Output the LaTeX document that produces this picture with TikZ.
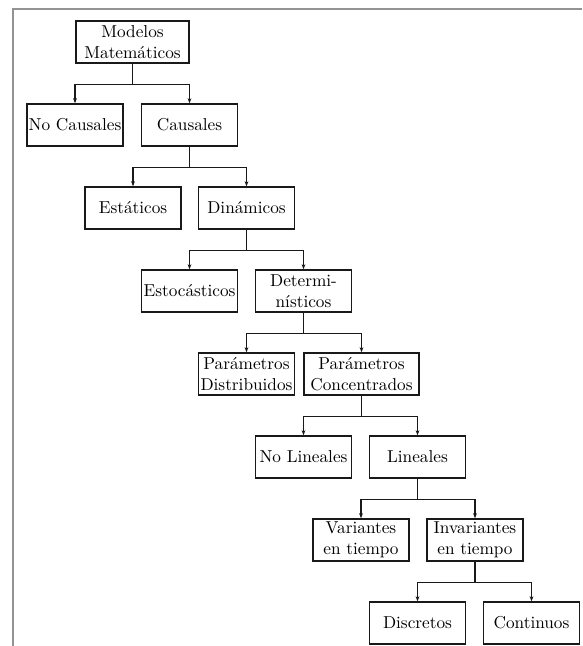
\documentclass[tikz,border=0pt]{standalone}
\usetikzlibrary{arrows.meta}
\begin{document}
\begin{tikzpicture}[x=0.58pt,y=-0.58pt,
  box/.style={draw=black!90,line width=0.75pt,minimum height=42*0.58pt,inner sep=1pt,align=center,minimum width=96*0.58pt},
  conn/.style={draw=black!90,line width=0.7pt,-{Stealth[length=3pt,width=2.2pt]}},
  frame/.style={draw=gray!85,line width=0.7pt}]
\useasboundingbox (0,0) rectangle (582,646);
\draw[frame] (13,646) -- (13,9) -- (582,9);
\node[box,minimum width=113*0.58pt] (mm) at (132.5,42) {Modelos\\Matemáticos};
\node[box] (nc) at (75,125) {No Causales};
\node[box] (ca) at (189.5,125) {Causales};
\node[box] (es) at (133,208) {Estáticos};
\node[box] (di) at (246.5,208) {Dinámicos};
\node[box] (eo) at (189.5,291) {Estocásticos};
\node[box] (de) at (303.5,291) {Determi-\\nísticos};
\node[box] (pd) at (246.5,374) {Parámetros\\Distribuidos};
\node[box,minimum width=115*0.58pt] (pc) at (361.5,374) {Parámetros\\Concentrados};
\node[box] (nl) at (303.5,457) {No Lineales};
\node[box] (li) at (417.5,457) {Lineales};
\node[box] (va) at (361,540) {Variantes\\en tiempo};
\node[box] (iv) at (475,540) {Invariantes\\en tiempo};
\node[box] (ds) at (417.5,623) {Discretos};
\node[box] (co) at (531.5,623) {Continuos};
\foreach \p/\a/\b in {mm/nc/ca, ca/es/di, di/eo/de, de/pd/pc, pc/nl/li, li/va/iv, iv/ds/co}{
  \draw[conn] (\p.south) -- ++(0,20.5) -| (\a.north);
  \draw[conn] (\p.south) -- ++(0,20.5) -| (\b.north);
}
\end{tikzpicture}
\end{document}
